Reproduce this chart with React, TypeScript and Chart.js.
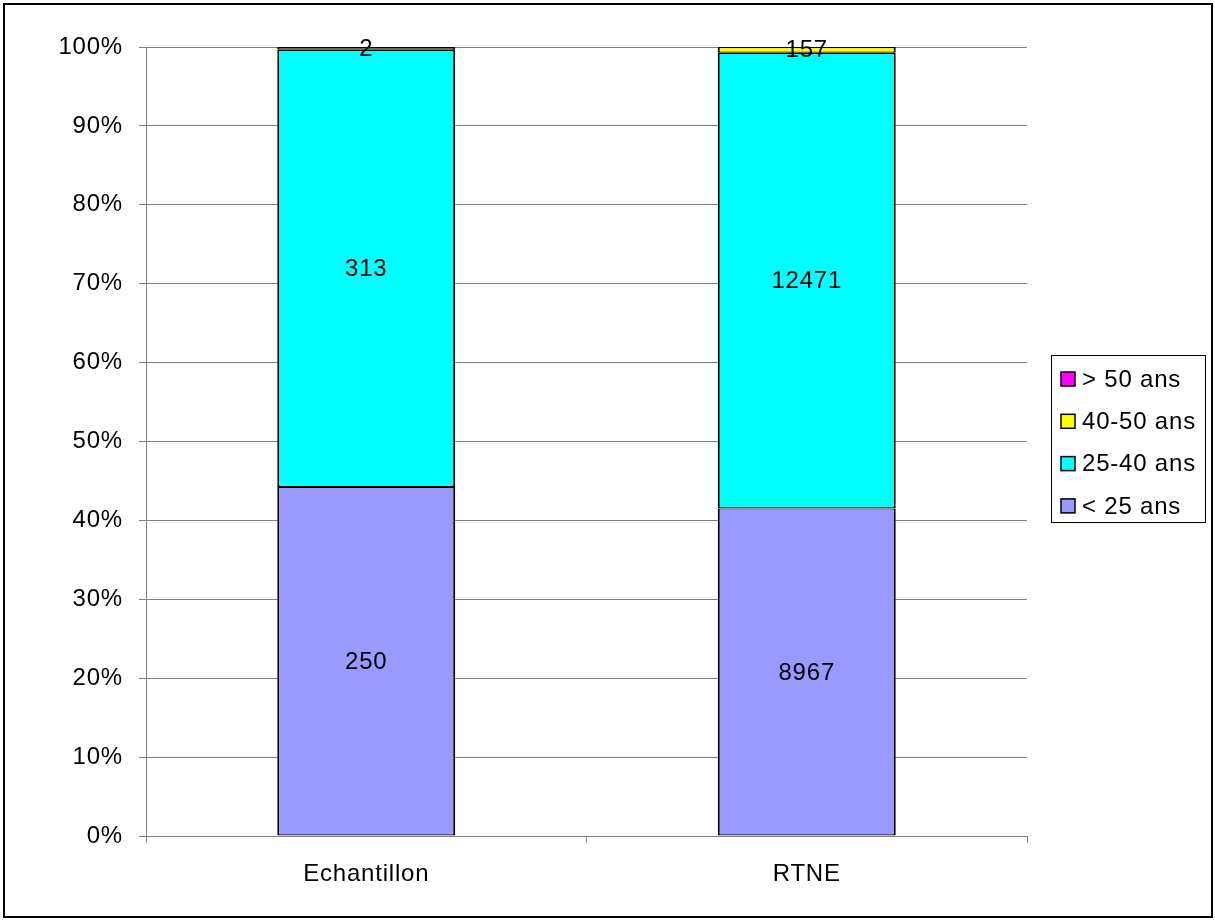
import React, { useEffect, useRef } from "react";
import { Chart, registerables } from "chart.js";

Chart.register(...registerables);

const categories = ["Echantillon", "RTNE"];
const seriesNames = ["< 25 ans", "25-40 ans", "40-50 ans", "> 50 ans"];
const under25 = [250, 8967];
const age25to40 = [313, 12471];
const age40to50 = [2, 157];
const over50 = [0, 0];
const seriesColors = ["#9999FF", "#00FFFF", "#FFFF00", "#FF00FF"];
const yTicks = [0, 10, 20, 30, 40, 50, 60, 70, 80, 90, 100];

const FONT = "'Liberation Sans', Arial, sans-serif";
const FS = 24;

export default function App() {
  const ref = useRef<HTMLCanvasElement | null>(null);

  useEffect(() => {
    const canvas = ref.current;
    if (!canvas) return;
    const raw = [under25, age25to40, age40to50, over50];
    const totals = categories.map((_, i) => raw.reduce((s, arr) => s + arr[i], 0));
    const pct = raw.map((arr) => arr.map((v, i) => (v > 0 ? (v / totals[i]) * 100 : null)));

    const spacing = (chart: any) => {
      try {
        (chart.ctx as any).letterSpacing = "0.8px";
      } catch (e) {}
    };

    const decor = {
      id: "decor",
      beforeLayout(chart: any) {
        spacing(chart);
      },
      beforeDraw(chart: any) {
        const ctx = chart.ctx;
        ctx.save();
        ctx.fillStyle = "#ffffff";
        ctx.fillRect(0, 0, chart.width, chart.height);
        ctx.restore();
        spacing(chart);
      },
      afterDatasetsDraw(chart: any) {
        const ctx = chart.ctx;
        ctx.save();
        spacing(chart);
        ctx.font = `${FS}px ${FONT}`;
        ctx.fillStyle = "#000";
        ctx.textAlign = "center";
        ctx.textBaseline = "middle";
        chart.data.datasets.forEach((ds: any, di: number) => {
          const meta = chart.getDatasetMeta(di);
          meta.data.forEach((el: any, i: number) => {
            const v = raw[di][i];
            if (!v) return;
            const y = (el.y + el.base) / 2;
            ctx.fillText(String(v), el.x, y + 1);
          });
        });
        ctx.restore();
      },
      afterDraw(chart: any) {
        const ctx = chart.ctx;
        ctx.save();
        // outer frame
        ctx.strokeStyle = "#000";
        ctx.lineWidth = 2;
        ctx.strokeRect(4, 4, 1208, 913);
        // legend
        ctx.lineWidth = 1;
        ctx.strokeStyle = "#000";
        ctx.strokeRect(1051.5, 355.5, 154, 167);
        const rows = [3, 2, 1, 0];
        spacing(chart);
        ctx.font = `${FS}px ${FONT}`;
        ctx.textAlign = "left";
        ctx.textBaseline = "middle";
        rows.forEach((si, r) => {
          const cy = 379 + r * 42.3;
          ctx.fillStyle = seriesColors[si];
          ctx.fillRect(1061, cy - 7, 14, 14);
          ctx.strokeStyle = "#000";
          ctx.lineWidth = 1.5;
          ctx.strokeRect(1061, cy - 7, 14, 14);
          ctx.fillStyle = "#000";
          ctx.fillText(seriesNames[si], 1082, cy + 1);
        });
        ctx.restore();
      },
    };

    const chart = new Chart(canvas, {
      type: "bar",
      data: {
        labels: categories,
        datasets: seriesNames.map((name, si) => ({
          label: name,
          data: pct[si] as any,
          backgroundColor: seriesColors[si],
          borderColor: "#000",
          borderWidth: { top: 1.2, bottom: 1.2, left: 2, right: 2 } as any,
          borderSkipped: false,
          barPercentage: 0.404,
          categoryPercentage: 1,
        })),
      },
      options: {
        animation: false,
        responsive: false,
        maintainAspectRatio: false,
        devicePixelRatio: 1,
        layout: { padding: { left: 0, top: 47, right: 188, bottom: 0 } },
        plugins: {
          legend: { display: false },
          tooltip: { enabled: false },
          title: { display: false },
        },
        scales: {
          x: {
            stacked: true,
            offset: true,
            grid: {
              display: true,
              drawOnChartArea: false,
              drawTicks: true,
              tickLength: 7,
              color: "#808080",
              offset: true,
            },
            border: { display: true, color: "#808080", width: 1 },
            ticks: {
              color: "#000",
              font: { family: FONT, size: FS },
              padding: 17,
              maxRotation: 0,
            },
            afterFit(scale: any) {
              scale.height = 84;
            },
          },
          y: {
            stacked: true,
            min: 0,
            max: 100,
            afterBuildTicks(scale: any) {
              scale.ticks = yTicks.map((v) => ({ value: v }));
            },
            grid: {
              color: "#808080",
              lineWidth: 1,
              tickLength: 7,
              drawTicks: true,
            },
            border: { display: true, color: "#808080", width: 1 },
            ticks: {
              color: "#000",
              font: { family: FONT, size: FS },
              padding: 16,
              callback: (v: any) => `${v}%`,
            },
            afterFit(scale: any) {
              scale.width = 146;
            },
          },
        },
      },
      plugins: [decor],
    });

    return () => chart.destroy();
  }, []);

  return (
    <div style={{ position: "absolute", left: 0, top: 0, width: 1215, height: 920 }}>
      <canvas ref={ref} width={1215} height={920} style={{ width: 1215, height: 920, display: "block" }} />
    </div>
  );
}
